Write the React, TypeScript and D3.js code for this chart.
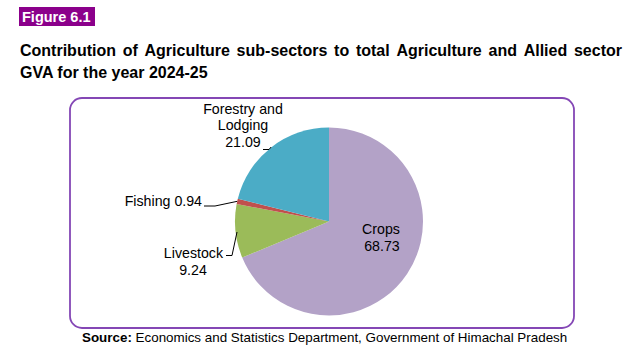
import React, { useEffect, useRef } from 'react'
import * as d3 from 'd3'

const sectors = ['Crops', 'Livestock', 'Fishing', 'Forestry and Lodging']
const shares = [68.73, 9.24, 0.94, 21.09]
const colors = ['#B3A2C7', '#9BBB59', '#C0504D', '#4BACC6']

const titleLine1 = 'Contribution of Agriculture sub-sectors to total Agriculture and Allied sector'
const titleLine2 = 'GVA for the year 2024-25'

const W = 641
const H = 363

const App: React.FC = () => {
  const ref = useRef<SVGSVGElement>(null)

  useEffect(() => {
    if (!ref.current) return
    const svg = d3.select(ref.current)
    svg.selectAll('*').remove()
    const font = '"Liberation Sans", Arial, sans-serif'

    // figure tag
    svg.append('rect').attr('x', 19).attr('y', 7).attr('width', 76).attr('height', 19).attr('fill', '#8B008B')
    svg.append('text').attr('x', 22).attr('y', 22).attr('fill', '#fff')
      .attr('font-family', font).attr('font-weight', 'bold').attr('font-size', 14.5).text('Figure 6.1')

    // justified title line 1
    const words = titleLine1.split(' ')
    const t1 = svg.append('g').attr('font-family', font).attr('font-weight', 'bold').attr('font-size', 16).attr('fill', '#000')
    const nodes = words.map(w => t1.append('text').attr('y', 56).text(w))
    const widths = nodes.map(n => (n.node() as SVGTextElement).getComputedTextLength())
    const left = 20, right = 622
    const gap = (right - left - d3.sum(widths)) / (words.length - 1)
    let x = left
    nodes.forEach((n, i) => { n.attr('x', x); x += widths[i] + gap })
    t1.append('text').attr('x', left).attr('y', 78).text(titleLine2)

    // frame
    svg.append('rect').attr('x', 70).attr('y', 98).attr('width', 504).attr('height', 230)
      .attr('rx', 12).attr('fill', '#fff').attr('stroke', '#8447B5').attr('stroke-width', 1.8)

    // pie
    const cx = 329, cy = 221.5, r = 94
    const pie = d3.pie<number>().sort(null).value(d => d)
    const arcs = pie(shares)
    const arc = d3.arc<d3.PieArcDatum<number>>().innerRadius(0).outerRadius(r)
    const g = svg.append('g').attr('transform', `translate(${cx},${cy})`)
    g.selectAll('path').data(arcs).enter().append('path')
      .attr('d', arc).attr('fill', (_, i) => colors[i])

    const lab = svg.append('g').attr('font-family', font).attr('font-size', 14.2).attr('fill', '#000')
    const edge = (i: number) => {
      const a = (arcs[i].startAngle + arcs[i].endAngle) / 2
      return [cx + Math.sin(a) * r, cy - Math.cos(a) * r]
    }

    // Crops
    lab.append('text').attr('x', 381).attr('y', 234).attr('text-anchor', 'middle').text('Crops')
    lab.append('text').attr('x', 382).attr('y', 251).attr('text-anchor', 'middle').text(String(shares[0]))

    // Forestry
    lab.append('text').attr('x', 243).attr('y', 114).attr('text-anchor', 'middle').text('Forestry and')
    lab.append('text').attr('x', 243).attr('y', 130).attr('text-anchor', 'middle').text('Lodging')
    lab.append('text').attr('x', 243).attr('y', 147).attr('text-anchor', 'middle').text(String(shares[3]))
    const leader = svg.append('g').attr('stroke', '#000').attr('stroke-width', 1).attr('fill', 'none')
    const eF = edge(3)
    leader.append('polyline').attr('points', `263,149.5 269,149.5 ${Math.min(eF[0], 272)},147`)

    // Fishing
    lab.append('text').attr('x', 202).attr('y', 206).attr('text-anchor', 'end').text(`Fishing ${shares[2]}`)
    const eFi = edge(2)
    leader.append('polyline').attr('points', `204,206 215,206 ${eFi[0]},${eFi[1]}`)

    // Livestock
    lab.append('text').attr('x', 223).attr('y', 258).attr('text-anchor', 'end').text('Livestock')
    lab.append('text').attr('x', 193).attr('y', 275).attr('text-anchor', 'middle').text(String(shares[1]))
    leader.append('polyline').attr('points', `226,255.5 232,255.5 237,232`)

    // source
    const src = svg.append('text').attr('x', 82).attr('y', 342).attr('font-family', font).attr('font-size', 13.4).attr('fill', '#000')
    src.append('tspan').attr('font-weight', 'bold').text('Source:')
    src.append('tspan').text(' Economics and Statistics Department, Government of Himachal Pradesh')
  }, [])

  return (
    <svg ref={ref} width={W} height={H} style={{ position: 'absolute', left: 0, top: 0, background: '#fff' }} />
  )
}

export default App
